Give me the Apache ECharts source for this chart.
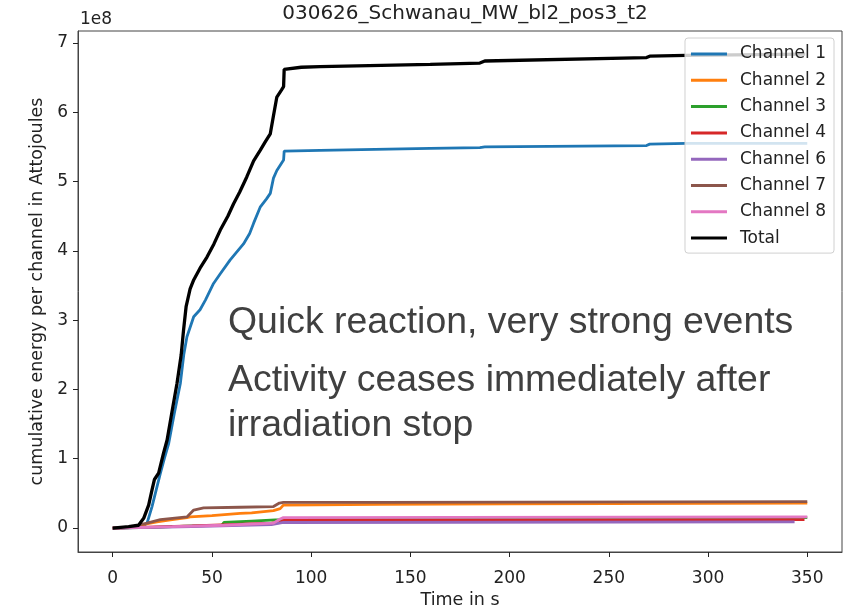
<!DOCTYPE html>
<html lang="en">
<head>
    <meta charset="UTF-8">
    <title>030626_Schwanau_MW_bl2_pos3_t2</title>
    <script src="https://cdn.jsdelivr.net/npm/echarts@6/dist/echarts.min.js"></script>
    <style>
        html, body { margin: 0; padding: 0; background: #fff; }
        #main { width: 856px; height: 609px; }
    </style>
</head>
<body>
<div id="main"></div>
<script type="text/javascript">
    // values are in units of 1e8 attojoules, time in s
    var ch1 = [[0,0],[10,0.005],[15,0.02],[17.3,0.07],[19.8,0.31],[24,0.79],[26,1.0],[28.2,1.22],[31,1.65],[34.1,2.09],[35.8,2.5],[37.4,2.76],[40.8,3.05],[44,3.15],[46.7,3.29],[50.8,3.53],[54.2,3.67],[59.2,3.87],[65.9,4.10],[69,4.25],[71,4.40],[74.3,4.63],[77.5,4.75],[79.4,4.83],[81,5.05],[82.7,5.16],[86.1,5.31],[86.4,5.44],[104.5,5.45],[160,5.48],[185,5.49],[187.5,5.50],[269,5.52],[270.6,5.54],[289,5.55],[350,5.55]];
    var ch2 = [[0,0],[10,0.01],[14,0.04],[17,0.06],[22.3,0.09],[30,0.12],[37.4,0.15],[39,0.16],[50,0.18],[64.2,0.21],[70,0.22],[81,0.25],[84.4,0.28],[86,0.33],[134.7,0.34],[200,0.35],[350,0.36]];
    var ch3 = [[0,0],[20,0.01],[40,0.03],[55,0.04],[56,0.08],[70,0.1],[84.4,0.12],[86,0.13],[350,0.15]];
    var ch4 = [[0,0],[40,0.03],[80,0.07],[84,0.08],[86,0.11],[348.6,0.12]];
    var ch6 = [[0,0],[40,0.02],[80,0.05],[86,0.08],[343.6,0.09]];
    var ch7 = [[0,0],[10,0.01],[14,0.05],[17.3,0.07],[24,0.12],[37.4,0.16],[40.8,0.26],[45.8,0.29],[64,0.30],[81,0.31],[84,0.36],[86,0.37],[134.7,0.37],[350,0.38]];
    var ch8 = [[0,0],[30,0.02],[56,0.04],[81,0.07],[84.4,0.13],[86,0.15],[350,0.16]];
    var total = [[0,0],[8,0.02],[13,0.04],[15.6,0.14],[18.1,0.33],[19.8,0.55],[21,0.7],[23.1,0.79],[25.6,1.08],[27.4,1.27],[30,1.7],[32.4,2.09],[34.5,2.5],[35.7,2.86],[37,3.2],[39,3.45],[40.8,3.58],[44,3.75],[47.5,3.91],[51,4.1],[54.2,4.30],[58,4.5],[60.9,4.68],[64,4.85],[67.6,5.07],[71,5.3],[74.3,5.45],[77,5.58],[79.4,5.69],[81,5.95],[82.7,6.22],[85,6.32],[86.1,6.37],[86.4,6.62],[95,6.65],[104.5,6.66],[160,6.69],[185,6.71],[187.5,6.74],[269,6.79],[270.6,6.81],[289,6.82],[349,6.84]];

    var names = ['Channel 1','Channel 2','Channel 3','Channel 4','Channel 6','Channel 7','Channel 8','Total'];
    var colors = ['#1f77b4','#ff7f0e','#2ca02c','#d62728','#9467bd','#8c564b','#e377c2','#000000'];
    var xTicks = [0,50,100,150,200,250,300,350];
    var yTicks = [0,1,2,3,4,5,6,7];

    var allData = [ch1, ch2, ch3, ch4, ch6, ch7, ch8, total];
    var series = [];
    for (var i = 0; i < allData.length; i++) {
        series.push({
            name: names[i],
            type: 'line',
            data: allData[i],
            showSymbol: false,
            silent: true,
            color: colors[i],
            lineStyle: { width: i == 7 ? 3.3 : 2.8, color: colors[i] }
        });
    }

    var tickFont = { fontFamily: 'DejaVu Sans', fontSize: 17, color: '#222' };

    var myChart = echarts.init(document.getElementById('main'));
    var option = {
        animation: false,
        backgroundColor: '#fff',
        title: {
            text: '030626_Schwanau_MW_bl2_pos3_t2',
            left: 460, top: -1, textAlign: 'center',
            textStyle: { fontFamily: 'DejaVu Sans', fontSize: 20, fontWeight: 'normal', color: '#222' }
        },
        grid: {
            left: 78, top: 31, right: 14, bottom: 57,
            outerBoundsMode: 'none',
            show: true, borderColor: '#444', borderWidth: 1
        },
        legend: {
            orient: 'vertical',
            right: 22, top: 38,
            icon: 'rect',
            itemWidth: 36, itemHeight: 3,
            itemGap: 6.3,
            padding: [6, 8, 5, 6],
            backgroundColor: 'rgba(255,255,255,0.8)',
            borderColor: '#d0d0d0', borderWidth: 1, borderRadius: 3,
            textStyle: { fontFamily: 'DejaVu Sans', fontSize: 17, color: '#222', lineHeight: 20, padding: [0, 0, 0, 8] },
            data: names
        },
        xAxis: {
            type: 'value',
            min: -17.5, max: 367.5,
            splitLine: { show: false },
            axisLine: { show: true, onZero: false, lineStyle: { color: '#444' } },
            axisTick: { show: true, length: 5, customValues: xTicks, lineStyle: { color: '#222' } },
            axisLabel: Object.assign({ customValues: xTicks, margin: 18 }, tickFont),
            name: 'Time in s',
            nameLocation: 'middle', nameGap: 35,
            nameTextStyle: { fontFamily: 'DejaVu Sans', fontSize: 17.5, color: '#222' }
        },
        yAxis: {
            type: 'value',
            min: -0.346, max: 7.173,
            splitLine: { show: false },
            axisLine: { show: true, onZero: false, lineStyle: { color: '#444' } },
            axisTick: { show: true, length: 5, customValues: yTicks, lineStyle: { color: '#222' } },
            axisLabel: Object.assign({ customValues: yTicks, margin: 10 }, tickFont),
            name: 'cumulative energy per channel in Attojoules',
            nameLocation: 'middle', nameGap: 32,
            nameTextStyle: { fontFamily: 'DejaVu Sans', fontSize: 17.5, color: '#222' }
        },
        graphic: [
            { type: 'text', left: 80, top: 11, style: { text: '1e8', font: '17px "DejaVu Sans"', fill: '#222' } },
            { type: 'text', x: 228, y: 323, style: { text: 'Quick reaction, very strong events', font: '37.4px "Liberation Sans"', fill: '#404040', textVerticalAlign: 'middle' } },
            { type: 'text', x: 228, y: 381, style: { text: 'Activity ceases immediately after', font: '37.4px "Liberation Sans"', fill: '#404040', textVerticalAlign: 'middle' } },
            { type: 'text', x: 228, y: 426, style: { text: 'irradiation stop', font: '37.4px "Liberation Sans"', fill: '#404040', textVerticalAlign: 'middle' } }
        ],
        series: series
    };
    myChart.setOption(option);
</script>
</body>
</html>
